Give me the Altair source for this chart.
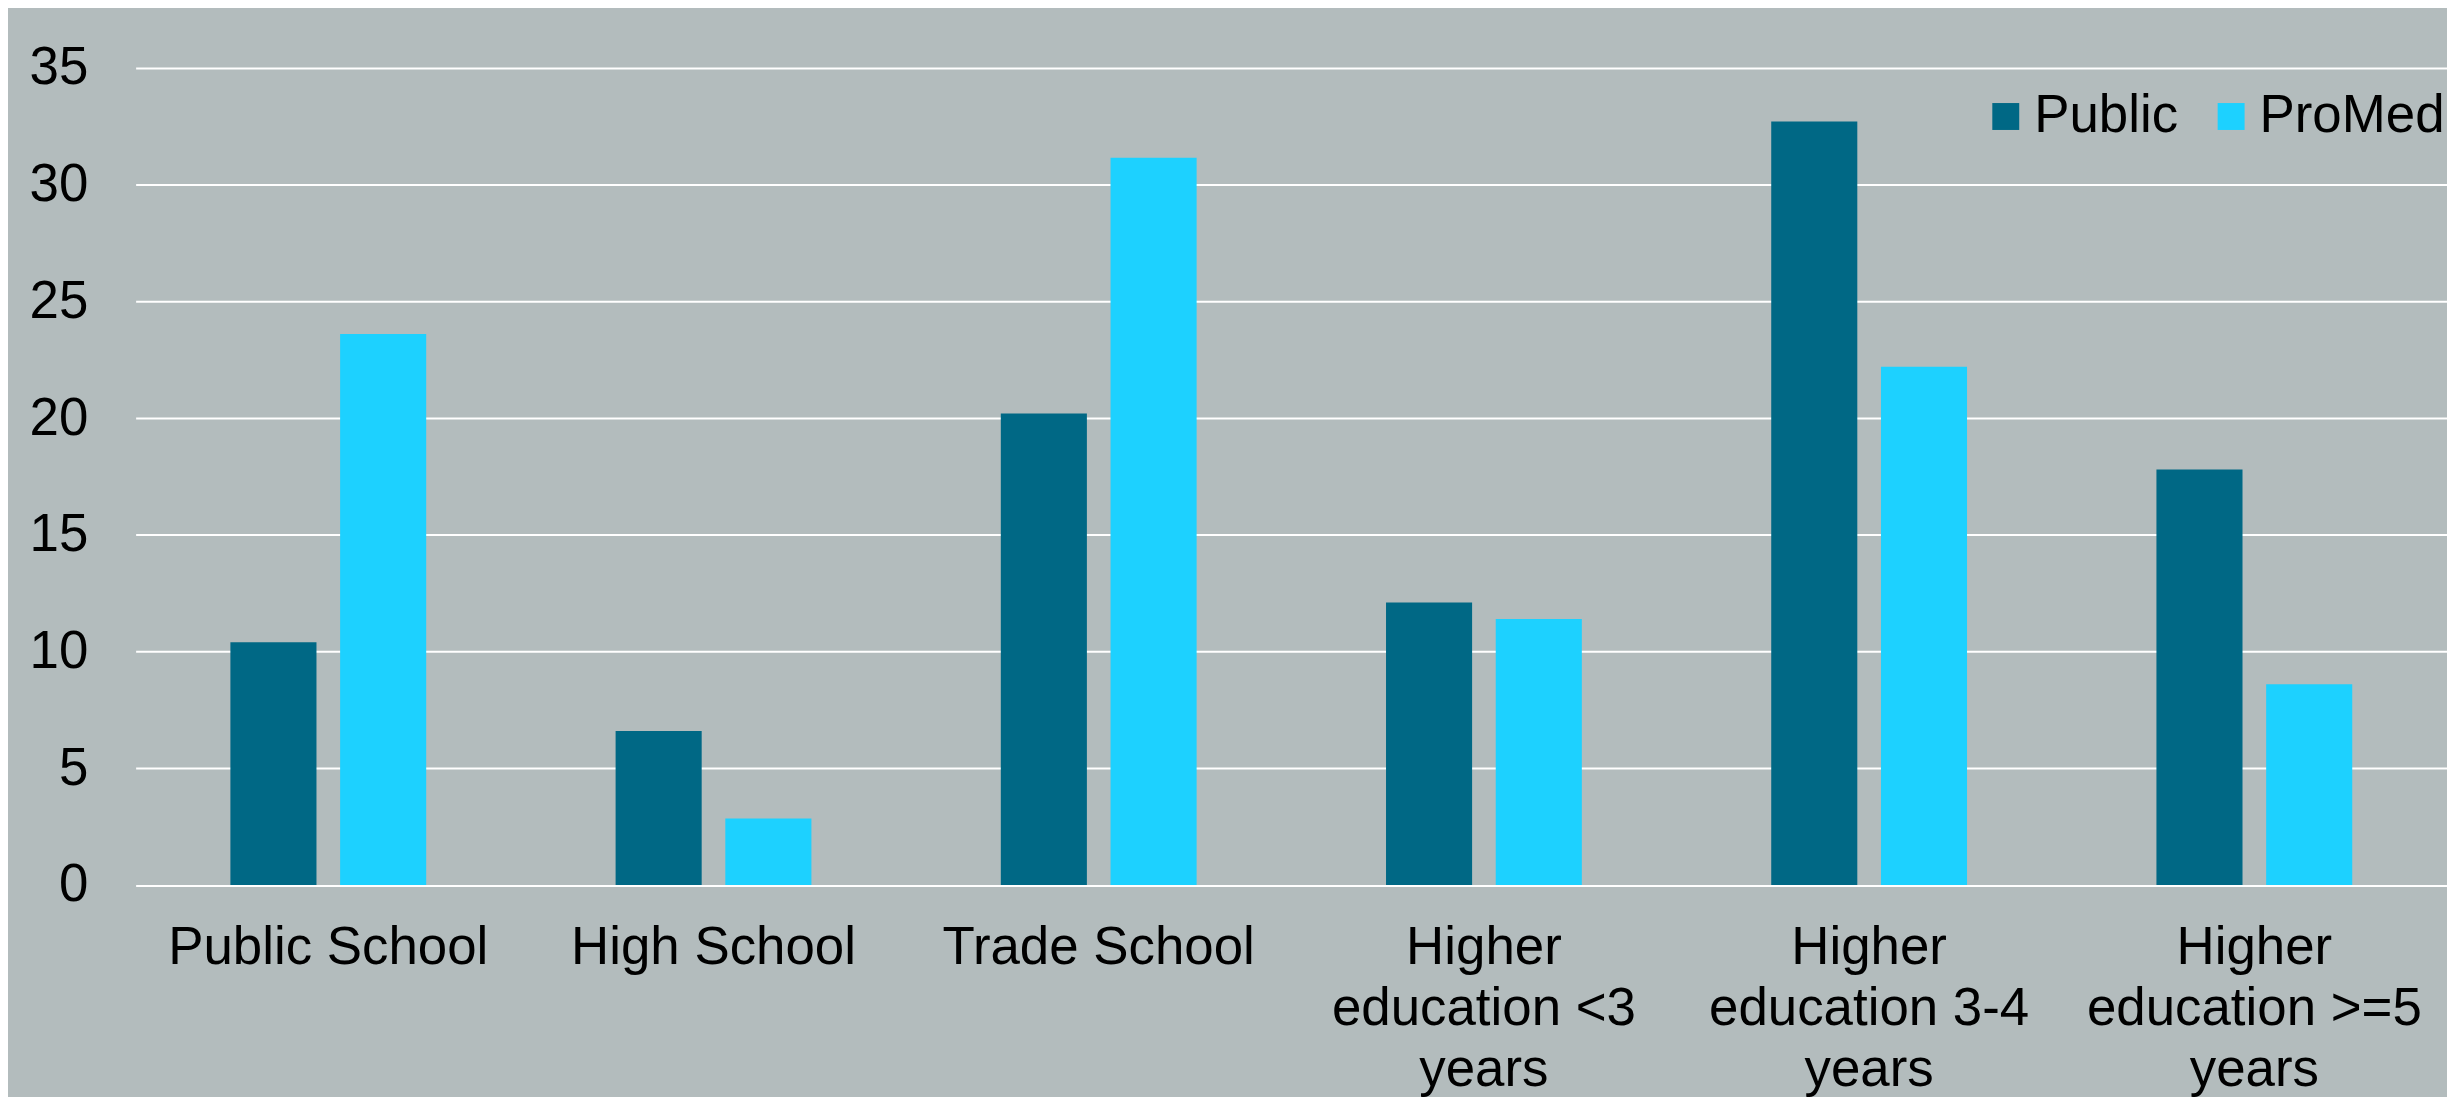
import altair as alt
import pandas as pd

categories = ["Public School", "High School", "Trade School",
              "Higher education <3 years", "Higher education 3-4 years",
              "Higher education >=5 years"]
label_lines = [["Public School"], ["High School"], ["Trade School"],
               ["Higher", "education <3", "years"],
               ["Higher", "education 3-4", "years"],
               ["Higher", "education >=5", "years"]]
series = ["Public", "ProMed"]
public_vals = [10.4, 6.6, 20.2, 12.1, 32.7, 17.8]
promed_vals = [23.6, 2.85, 31.15, 11.4, 22.2, 8.6]
colors = ["#006885", "#1DD1FF"]
y_ticks = [0, 5, 10, 15, 20, 25, 30, 35]

rows = []
for c, a, b in zip(categories, public_vals, promed_vals):
    rows.append({"category": c, "series": "Public", "value": a})
    rows.append({"category": c, "series": "ProMed", "value": b})
df = pd.DataFrame(rows)

# build label expression (multi-line labels)
expr = "datum.label"
for c, lines in reversed(list(zip(categories, label_lines))):
    arr = "[" + ",".join("'" + l + "'" for l in lines) + "]"
    expr = f"datum.label == '{c}' ? {arr} : ({expr})"

FONT = "Liberation Sans"
FS = 53

chart = alt.Chart(df).mark_bar().encode(
    x=alt.X("category:N", sort=categories, title=None,
            scale=alt.Scale(paddingInner=0.4917, paddingOuter=0.246),
            axis=alt.Axis(labelAngle=0, labelFontSize=FS, labelFont=FONT,
                          labelColor="black", labelPadding=37, ticks=False,
                          domain=False, labelLineHeight=61, labelExpr=expr,
                          labelBaseline="top", labelLimit=0)),
    xOffset=alt.XOffset("series:N", sort=series,
                        scale=alt.Scale(paddingInner=0.2155, paddingOuter=0)),
    y=alt.Y("value:Q", title=None,
            scale=alt.Scale(domain=[0, 35], nice=False),
            axis=alt.Axis(values=y_ticks, labelFontSize=FS, labelFont=FONT,
                          labelColor="black", labelPadding=48, ticks=False,
                          domain=False, grid=True, gridColor="white",
                          gridWidth=2, gridOpacity=1)),
    color=alt.Color("series:N", sort=series,
                    scale=alt.Scale(domain=series, range=colors),
                    legend=alt.Legend(title=None, orient="none",
                                      legendX=1849, legendY=22,
                                      direction="horizontal",
                                      symbolType="square", symbolSize=729,
                                      symbolStrokeWidth=0, symbolOpacity=1,
                                      labelFontSize=FS, labelFont=FONT,
                                      labelColor="black", labelOffset=2,
                                      labelLimit=0, columnPadding=26)),
).properties(
    width=2318, height=819.5,
    autosize=alt.AutoSizeParams(type="none"),
    padding={"left": 128, "top": 58.5, "right": 0, "bottom": 211},
    background="#B3BCBD",
).configure_view(stroke=None)

chart.save("out.html", embed_options={"renderer": "svg", "actions": False})
